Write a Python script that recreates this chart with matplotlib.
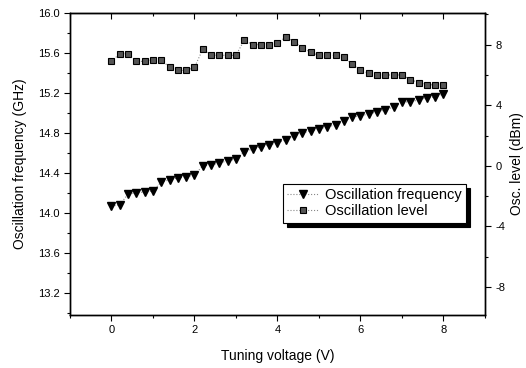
import numpy as np
import matplotlib.pyplot as plt
from matplotlib.ticker import MultipleLocator, FormatStrFormatter
from matplotlib.lines import Line2D

plt.rcParams['font.family'] = ['Liberation Sans', 'DejaVu Sans']
plt.rcParams['axes.unicode_minus'] = False

#===== DATA =====
voltage = np.round(np.arange(0, 8.01, 0.2), 1)   # tuning voltage (V)

freq_ghz = [14.07, 14.08, 14.19, 14.20, 14.21, 14.22, 14.31, 14.33, 14.35, 14.36,
            14.38, 14.47, 14.48, 14.50, 14.52, 14.54, 14.61, 14.64, 14.66, 14.68,
            14.70, 14.73, 14.77, 14.80, 14.82, 14.84, 14.86, 14.88, 14.92, 14.96,
            14.97, 14.99, 15.01, 15.03, 15.06, 15.11, 15.11, 15.13, 15.15, 15.16,
            15.19]

level_dbm = [6.9, 7.4, 7.4, 6.9, 6.9, 7.0, 7.0, 6.5, 6.3, 6.3,
             6.5, 7.7, 7.3, 7.3, 7.3, 7.3, 8.3, 8.0, 8.0, 8.0,
             8.1, 8.5, 8.2, 7.8, 7.5, 7.3, 7.3, 7.3, 7.2, 6.7,
             6.3, 6.1, 6.0, 6.0, 6.0, 6.0, 5.7, 5.5, 5.35, 5.35,
             5.35]

labels = ["Oscillation frequency", "Oscillation level"]

#===== FIGURE =====
fig = plt.figure(figsize=(5.26, 3.68), dpi=100)
ax = fig.add_axes([0.133, 0.144, 0.789, 0.821])
ax2 = ax.twinx()

tri_style = dict(linestyle=':', color='#888888', linewidth=0.8, marker='v',
                 markersize=6, markerfacecolor='black', markeredgecolor='black')
sq_style = dict(linestyle=':', color='#888888', linewidth=0.8, marker='s',
                markersize=3.8, markerfacecolor='#555555', markeredgecolor='black',
                markeredgewidth=0.8)

ax.plot(voltage, freq_ghz, **tri_style)
ax2.plot(voltage, level_dbm, **sq_style)

ax.set_xlim(-1, 9)
ax.set_ylim(12.98, 16.0)
ax2.set_ylim(-9.85, 10.1)

ax.xaxis.set_major_locator(MultipleLocator(2))
ax.xaxis.set_minor_locator(MultipleLocator(1))
ax.yaxis.set_minor_locator(MultipleLocator(0.2))
ax.set_yticks(np.arange(13.2, 16.01, 0.4))
ax.yaxis.set_major_formatter(FormatStrFormatter('%.1f'))
ax2.yaxis.set_major_locator(MultipleLocator(4))
ax2.yaxis.set_minor_locator(MultipleLocator(2))

for a in (ax, ax2):
    a.tick_params(which='major', direction='out', length=4, width=0.8, labelsize=8)
    a.tick_params(which='minor', direction='out', length=2, width=0.8)
    for s in a.spines.values():
        s.set_linewidth(1.0)

# top spine ticks point inwards
top = ax.secondary_xaxis('top')
top.xaxis.set_major_locator(MultipleLocator(2))
top.xaxis.set_minor_locator(MultipleLocator(1))
top.tick_params(which='major', direction='in', length=4, width=0.8, labeltop=False)
top.tick_params(which='minor', direction='in', length=2, width=0.8)

ax.set_xlabel("Tuning voltage (V)", fontsize=10, labelpad=10)
ax.set_ylabel("Oscillation frequency (GHz)", fontsize=10, labelpad=8)
ax2.set_ylabel("Osc. level (dBm)", fontsize=10, labelpad=3)

handles = [Line2D([], [], **tri_style), Line2D([], [], **sq_style)]
leg = ax2.legend(handles, labels, loc='upper left', bbox_to_anchor=(0.495, 0.458),
                 fontsize=10.5, frameon=True, fancybox=False, handlelength=2.2,
                 borderpad=0.3, labelspacing=0.15, handletextpad=0.4,
                 shadow={'ox': 3, 'oy': -3, 'facecolor': 'black',
                         'edgecolor': 'black', 'alpha': 1})
leg.get_frame().set_edgecolor('black')
leg.get_frame().set_linewidth(0.8)

fig.savefig("out.png", dpi=100)
